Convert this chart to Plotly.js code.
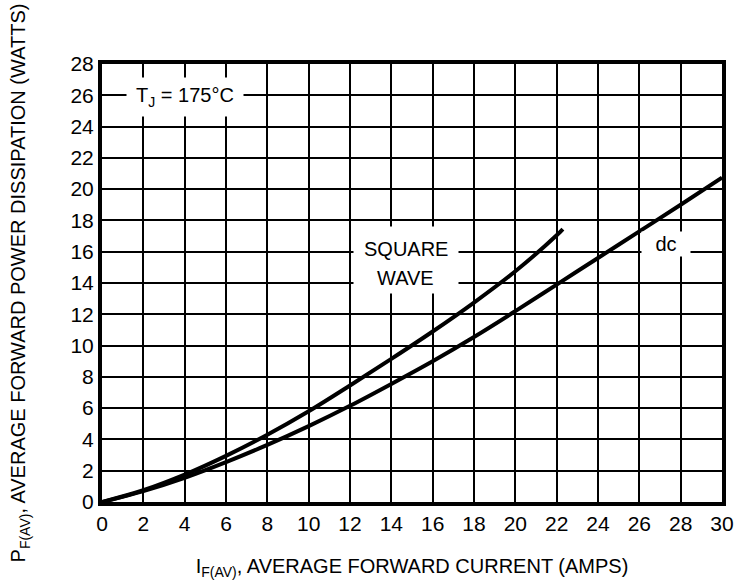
<!DOCTYPE html>
<html><head><meta charset="utf-8">
<script src="https://cdn.plot.ly/plotly-3.0.1.min.js"></script>
<style>body{margin:0;background:#fff}</style>
</head><body>
<div id="chart" style="width:737px;height:585px"></div>
<script>
const dcCurrent = [0, 2, 4, 6, 8, 10, 12, 14, 16, 18, 20, 22, 24, 26, 28, 30];
const dcPower   = [0, 0.7, 1.55, 2.55, 3.65, 4.85, 6.15, 7.55, 9.0, 10.55, 12.2, 13.9, 15.6, 17.3, 19.0, 20.74];
const sqCurrent = [0, 2, 4, 6, 8, 10, 12, 14, 16, 18, 20, 22, 22.3];
const sqPower   = [0, 0.75, 1.75, 2.95, 4.3, 5.8, 7.45, 9.15, 10.9, 12.75, 14.75, 17.05, 17.45];
const xTicks = [0,2,4,6,8,10,12,14,16,18,20,22,24,26,28,30];
const yTicks = [0,2,4,6,8,10,12,14,16,18,20,22,24,26,28];

const FONT = '"Liberation Sans Narrow", "Liberation Sans", Arial, sans-serif';
const lineStyle = {color: '#000', width: 4, shape: 'spline', smoothing: 1};

const data = [
  {x: dcCurrent, y: dcPower, mode: 'lines', line: lineStyle, name: 'dc', showlegend: false, hoverinfo: 'skip'},
  {x: sqCurrent, y: sqPower, mode: 'lines', line: lineStyle, name: 'SQUARE WAVE', showlegend: false, hoverinfo: 'skip'}
];

const layout = {
  width: 737, height: 585,
  margin: {l: 102, r: 15, t: 64, b: 83},
  paper_bgcolor: '#fff', plot_bgcolor: '#fff',
  font: {family: FONT, color: '#000', size: 18},
  xaxis: {
    range: [0, 30], tickvals: xTicks, ticktext: xTicks.map(String),
    showgrid: true, gridcolor: '#000', gridwidth: 2,
    showline: true, linecolor: '#000', linewidth: 4, mirror: true,
    zeroline: false, ticks: '', tickfont: {family: FONT, size: 21},
    title: {text: 'I<sub>F(AV)</sub>, AVERAGE FORWARD CURRENT (AMPS)', font: {family: FONT, size: 20}, standoff: 26}
  },
  yaxis: {
    range: [0, 28], tickvals: yTicks, ticktext: yTicks.map(String),
    showgrid: true, gridcolor: '#000', gridwidth: 2,
    showline: true, linecolor: '#000', linewidth: 4, mirror: true,
    zeroline: false, ticks: '', tickfont: {family: FONT, size: 21},
    title: {text: 'P<sub>F(AV)</sub>, AVERAGE FORWARD POWER DISSIPATION (WATTS)', font: {family: FONT, size: 20}, standoff: 40}
  },
  annotations: [
    {x: 4.0, y: 25.9, xref: 'x', yref: 'y', text: 'T<sub>J</sub> = 175°C', showarrow: false,
     bgcolor: '#fff', width: 116, height: 38, borderpad: 0, font: {family: FONT, size: 20}},
    {x: 14.7, y: 15.47, xref: 'x', yref: 'y', text: ' ', showarrow: false,
     bgcolor: '#fff', width: 104, height: 66, borderpad: 0, font: {family: FONT, size: 20}},
    {x: 14.7, y: 16.2, xref: 'x', yref: 'y', text: 'SQUARE', showarrow: false,
     font: {family: FONT, size: 20}},
    {x: 14.7, y: 14.3, xref: 'x', yref: 'y', text: 'WAVE', showarrow: false,
     font: {family: FONT, size: 20}},
    {x: 27.3, y: 16.5, xref: 'x', yref: 'y', text: 'dc', showarrow: false,
     bgcolor: '#fff', width: 48, height: 24, borderpad: 0, font: {family: FONT, size: 20}}
  ]
};

Plotly.newPlot('chart', data, layout, {displayModeBar: false, staticPlot: true});
</script>
</body></html>
